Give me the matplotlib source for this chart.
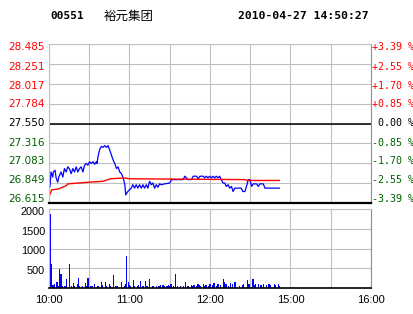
import matplotlib
matplotlib.use("Agg")
import matplotlib.pyplot as plt
from matplotlib.transforms import ScaledTranslation

# --- data (minutes since 10:00, lunch break removed) ---
prev_close = 27.550
price_ticks = [26.615, 26.849, 27.083, 27.316, 27.550, 27.784, 28.017, 28.251, 28.485]
price_labels = ['26.615', '26.849', '27.083', '27.316', '27.550', '27.784', '28.017', '28.251', '28.485']
pct_labels = ['-3.39 %', '-2.55 %', '-1.70 %', '-0.85 %', ' 0.00 %', '+0.85 %', '+1.70 %', '+2.55 %', '+3.39 %']

time_ticks = [0, 60, 120, 180, 240]
time_labels = ['10:00', '11:00', '12:00', '15:00', '16:00']
vol_ticks = [500, 1000, 1500, 2000]

price_t = [0, 0.75, 1.5, 2.8, 3.2, 4.5, 5.3, 6.5, 7.3, 9, 10.3, 11.5, 12.8, 14, 15.2,
           16.5, 17.8, 19, 20.3, 21.5, 22.7, 24, 25.3, 26.5, 27.8, 29, 30.2, 31.5,
           32.8, 34, 35.3, 35.8, 36.5, 37.7, 39, 40.3, 41.5, 42.8, 44, 45.2, 46.5,
           47.8, 49, 50.3, 51.5, 52.7, 54, 55.3, 56.5, 57.2, 58.7, 60, 61.3, 62.5,
           63.8, 65, 66.2, 67.5, 68.8, 70, 71.2, 72.5, 73.7, 75, 76.3, 77.5, 78.7,
           80, 81.2, 82.5, 83.7, 86.2, 90, 91.3, 100, 101.2, 102.5, 103.7, 106.2,
           107.5, 110, 111.2, 112.5, 115, 116, 117.2, 118.5, 119.7, 121, 122.2,
           123.5, 124.7, 126, 127.2, 128.5, 129.7, 131, 132.2, 133.5, 134.7, 136,
           137.2, 138.5, 143.2, 144.5, 146, 147.2, 148.5, 149.7, 151, 152.2, 154.7,
           156, 157.2, 159.7, 161, 162.2, 171.7]
price = [26.78, 26.81, 26.98, 26.92, 26.98, 27.00, 26.91, 26.86, 26.92, 26.98, 26.92,
         27.02, 26.98, 27.04, 27.02, 26.96, 27.02, 26.98, 27.04, 26.98, 27.02, 27.04,
         26.98, 27.06, 27.08, 27.06, 27.10, 27.08, 27.10, 27.07, 27.10, 27.08, 27.16,
         27.24, 27.28, 27.27, 27.29, 27.27, 27.29, 27.24, 27.18, 27.12, 27.08, 27.02,
         27.04, 26.98, 26.96, 26.91, 26.83, 26.71, 26.75, 26.77, 26.79, 26.83, 26.79,
         26.83, 26.79, 26.83, 26.79, 26.83, 26.79, 26.83, 26.79, 26.87, 26.83, 26.85,
         26.79, 26.83, 26.80, 26.84, 26.83, 26.84, 26.85, 26.89, 26.89, 26.93, 26.91,
         26.89, 26.89, 26.93, 26.93, 26.90, 26.93, 26.93, 26.91, 26.93, 26.91, 26.93,
         26.91, 26.93, 26.91, 26.93, 26.91, 26.93, 26.89, 26.85, 26.85, 26.81, 26.83,
         26.79, 26.81, 26.75, 26.79, 26.79, 26.75, 26.75, 26.81, 26.89, 26.89, 26.81,
         26.84, 26.84, 26.81, 26.84, 26.84, 26.79, 26.79, 26.79]

avg_t = [0, 0.8, 2, 7, 13, 14, 30, 40, 46, 56, 60, 146, 148, 171.7]
avg = [26.70, 26.72, 26.77, 26.78, 26.82, 26.84, 26.86, 26.87, 26.90, 26.91, 26.90,
       26.89, 26.88, 26.88]

vol_t = [0, 1, 2, 3, 5, 6, 7, 8, 9, 11, 12, 14, 16, 17, 18, 20, 21, 22, 24, 26, 27,
         28, 30, 31, 33, 35, 36, 38, 39, 41, 42, 44, 45, 47, 49, 50, 53, 55, 56, 57,
         58, 59, 60, 62, 63, 65, 66, 67, 69, 71, 72, 74, 76, 77, 79, 81, 82, 84, 85,
         87, 88, 89, 90, 92, 93, 95, 97, 99, 101, 102, 103, 105, 106, 107, 109, 110,
         111, 112, 114, 115, 116, 118, 119, 121, 122, 124, 125, 127, 129, 130, 131,
         133, 134, 136, 137, 138, 141, 143, 144, 147, 148, 151, 152, 153, 155, 157,
         159, 161, 163, 164, 167, 168, 170, 171]
vol = [1880, 600, 80, 90, 145, 60, 470, 350, 60, 60, 230, 600, 60, 120, 60, 95, 250,
       40, 60, 120, 40, 250, 50, 60, 100, 50, 40, 145, 80, 150, 50, 100, 50, 330, 60,
       50, 145, 60, 100, 820, 145, 80, 40, 200, 50, 60, 70, 175, 60, 175, 60, 230, 50,
       60, 60, 60, 70, 70, 60, 50, 70, 60, 100, 50, 350, 50, 40, 60, 145, 60, 50, 80,
       50, 80, 60, 90, 70, 50, 90, 50, 80, 60, 100, 70, 120, 60, 110, 80, 230, 150,
       100, 60, 130, 100, 150, 140, 60, 80, 100, 200, 100, 230, 80, 90, 100, 80, 100,
       80, 90, 80, 100, 80, 90, 60]

red = '#ff0000'
green = '#006000'
grid_c = '#c0c0c0'

fig = plt.figure(figsize=(4.14, 3.14), dpi=100)
ax = fig.add_axes([49 / 414, 1 - 203 / 314, 322 / 414, 159 / 314])
axv = fig.add_axes([49 / 414, 1 - 288 / 314, 322 / 414, 79 / 314])


def shift(dx, dy):
    return ScaledTranslation(dx / 100, dy / 100, fig.dpi_scale_trans)


# price panel
ax.plot(price_t, price, color='#0000ff', lw=0.9)
ax.plot(avg_t, avg, color=red, lw=1.0)
ax.axhline(prev_close, color='black', lw=1.1)
ax.set_xlim(0, 240)
ax.set_ylim(price_ticks[0], price_ticks[-1])
ax.set_xticks(range(0, 241, 30))
ax.set_xticklabels([])
ax.set_yticks(price_ticks)
ax.set_yticklabels([])
ax.tick_params(length=0)
ax.grid(True, color=grid_c, lw=0.8)
ax.set_axisbelow(True)
for s in ['left', 'top']:
    ax.spines[s].set_color(grid_c)
ax.spines['right'].set_color('#909090')
ax.spines['bottom'].set_color('black')
ax.spines['bottom'].set_linewidth(1.6)

span = price_ticks[-1] - price_ticks[0]
for i, (v, lab, pct) in enumerate(zip(price_ticks, price_labels, pct_labels)):
    c = red if v > prev_close + 0.001 else ('black' if abs(v - prev_close) < 0.001 else green)
    yf = (v - price_ticks[0]) / span
    dy = (4 - i) * 0.875
    ax.text(0, yf, lab, transform=ax.transAxes + shift(-4, dy), ha='right', va='center',
            fontsize=7.5, family='DejaVu Sans', color=c)
    ax.text(1, yf, pct, transform=ax.transAxes + shift(1, dy), ha='left', va='center',
            fontsize=7.2, family='DejaVu Sans Mono', color=c)

# volume panel (each minute's bar drawn at the end of its minute)
axv.bar([t + 1 for t in vol_t], vol, width=0.9, color='#0000ff')
axv.set_xlim(0, 240)
axv.set_ylim(0, 2000)
axv.set_xticks(range(0, 241, 30))
axv.set_xticklabels(['10:00', '', '11:00', '', '12:00', '', '15:00', '', '16:00'],
                    fontsize=8, family='Liberation Sans')
axv.set_yticks(vol_ticks)
axv.set_yticklabels([])
axv.tick_params(length=0)
axv.tick_params(axis='x', pad=5)
axv.grid(True, color=grid_c, lw=0.8)
axv.set_axisbelow(True)
for s in ['left', 'top']:
    axv.spines[s].set_color(grid_c)
axv.spines['right'].set_color('#909090')
axv.spines['bottom'].set_color('black')
axv.spines['bottom'].set_linewidth(1.2)
for v in vol_ticks:
    axv.text(0, v / 2000, str(v), transform=axv.transAxes + shift(-4, -3), ha='right',
             va='center', fontsize=7.8, family='Liberation Sans')

# header
fig.text(50 / 414, 1 - 16 / 314, '00551', fontsize=8, family='DejaVu Sans Mono',
         weight='bold', va='center')
fig.text(104 / 414, 1 - 16 / 314, '裕元集团', fontsize=9, family=['Noto Sans CJK SC', 'DejaVu Sans'],
         va='center')
fig.text(238 / 414, 1 - 16 / 314, '2010-04-27 14:50:27', fontsize=8.2,
         family='DejaVu Sans Mono', weight='bold', va='center')

fig.savefig('out.png', dpi=100, facecolor='white')
